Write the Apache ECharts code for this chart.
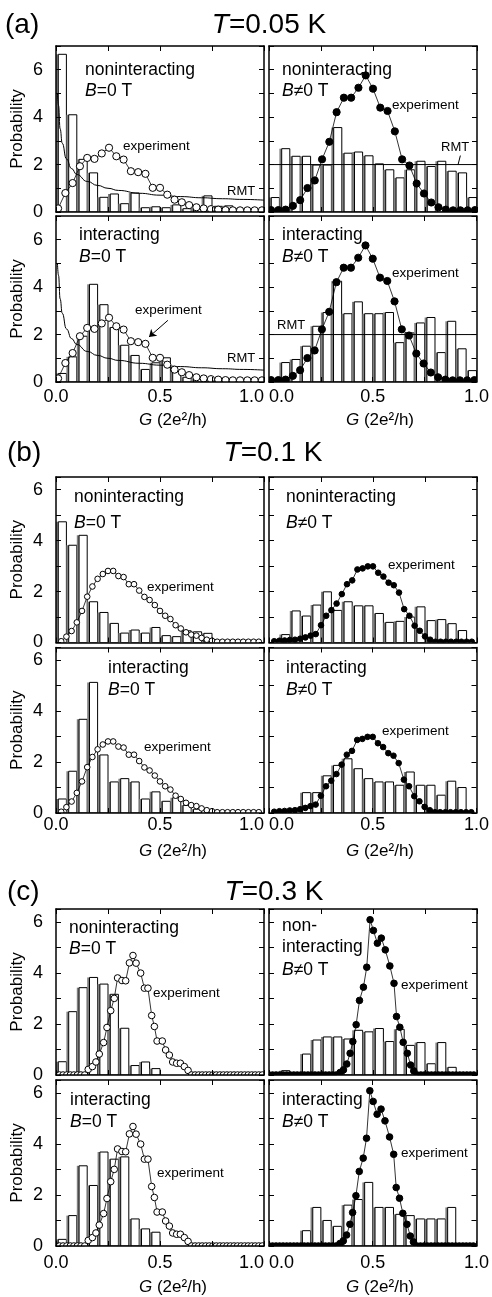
<!DOCTYPE html>
<html><head><meta charset="utf-8">
<script src="https://cdn.jsdelivr.net/npm/echarts@6/dist/echarts.min.js"></script>
<style>html,body{margin:0;padding:0;background:#fff}#c{width:492px;height:1297px}</style>
</head><body><div id="c"></div>
<script>
// ---------- DATA ----------
const binEdges = [0,0.05,0.1,0.15,0.2,0.25,0.3,0.35,0.4,0.45,0.5,0.55,0.6,0.65,0.7,0.75,0.8,0.85,0.9,0.95,1.0];
const xTickLabels = [0, 0.5, 1.0];
const yTickLabels = [0, 2, 4, 6];

// histogram heights (20 bins of width 0.05)
const aTopLeftBars  = [6.65,4.1,2.22,1.65,0.62,0.76,0.35,0.8,0.18,0.22,0.18,0.3,0.14,0.16,0.68,0.24,0.26,0.14,0.1,0.08];
const aTopRightBars = [0.61,2.67,2.35,2.35,1.98,1.98,3.56,2.48,2.53,2.37,2.03,1.78,1.44,1.78,2.14,1.92,2.14,1.72,1.65,0.61];
const aBotLeftBars  = [0.36,1.06,1.93,4.12,3.26,2.3,1.55,1.12,0.53,0.81,1.02,0.45,0.2,0.15,0.12,0.1,0.08,0.06,0.05,0.05];
const aBotRightBars = [0,0.82,0.95,1.51,2.35,2.93,4.25,2.88,3.38,2.88,2.88,2.93,1.66,2.07,2.49,2.72,1.24,2.56,1.4,0.48];
const bTopLeftBars  = [4.74,3.82,4.21,1.6,1.18,0.75,0.37,0.49,0.37,0.59,0.27,0.23,0.46,0.42,0.36,0,0,0,0,0];
const bTopRightBars = [0,0.31,1.24,1.04,1.47,1.99,1.26,1.6,1.44,1.44,1.14,0.79,0.83,1.0,1.4,0.86,0.9,0.74,0.47,0];
const bBotLeftBars  = [0.55,1.64,3.68,5.13,2.28,1.22,1.35,1.22,0.55,0.83,0.46,0.6,0.3,0.15,0,0,0,0,0,0];
const bBotRightBars = [0,0,0,0.8,0.8,1.46,1.87,2.13,1.74,1.35,1.22,1.22,1.09,1.61,1.09,1.09,0.7,1.25,1.0,0];
const cTopLeftBars  = [0.52,2.48,3.42,3.82,3.56,3.16,1.83,0.37,0.51,0.25,0,0,0,0,0,0,0,0,0,0];
const cTopRightBars = [0,0.17,0,0.82,1.37,1.49,1.49,1.41,1.75,1.69,1.82,1.31,1.79,1.16,1.27,0.44,1.27,0.3,0,0];
const cBotLeftBars  = [0.26,1.19,3.14,2.37,3.68,3.4,3.49,1.06,0.67,0.54,0,0,0,0,0,0,0,0,0,0];
const cBotRightBars = [0,0,0,0.6,1.51,1.0,0.77,1.6,1.82,2.49,1.51,1.51,1.24,1.19,1.06,1.06,1.06,1.51,0,0];

// experiment, T=0.05 K
const aExpX = [0.01,0.045,0.08,0.115,0.15,0.185,0.22,0.255,0.29,0.325,0.36,0.395,0.43,0.465,0.5,0.535,0.57,0.605,0.64,0.675,0.71,0.745,0.78,0.815,0.85,0.885,0.92,0.955,0.99];
const aExpB0 = [0.15,0.8,1.22,1.93,2.28,2.24,2.47,2.71,2.35,2.21,1.72,1.68,1.61,1.02,1.02,0.73,0.52,0.41,0.29,0.2,0.15,0.12,0.1,0.08,0.07,0.07,0.07,0.07,0.07];
const aExpB1 = [0.08,0.08,0.1,0.26,0.5,1.01,1.33,2.22,2.96,4.21,4.82,4.82,5.24,5.76,5.2,4.4,4.26,3.4,2.22,1.96,1.2,0.78,0.4,0.2,0.1,0.07,0.07,0.07,0.08];
// experiment, T=0.1 K
const bExpX = [0.025,0.05,0.075,0.1,0.125,0.15,0.175,0.2,0.225,0.25,0.275,0.3,0.325,0.35,0.375,0.4,0.425,0.45,0.475,0.5,0.525,0.55,0.575,0.6,0.625,0.65,0.675,0.7,0.725,0.75,0.775,0.8,0.825,0.85,0.875,0.9,0.925,0.95,0.975];
const bExpB0 = [0.05,0.23,0.45,0.79,1.24,1.8,2.2,2.5,2.69,2.81,2.81,2.61,2.57,2.29,2.29,2.04,1.79,1.67,1.47,1.24,1.05,0.92,0.68,0.55,0.4,0.31,0.27,0.18,0.11,0.07,0.03,0.03,0.03,0.03,0.03,0.03,0.03,0.03,0.03];
const bExpB1 = [0.05,0.07,0.08,0.1,0.11,0.15,0.2,0.27,0.33,0.68,1.05,1.27,1.53,1.9,2.29,2.44,2.87,2.91,2.99,2.99,2.74,2.59,2.35,2.25,1.96,1.31,1.05,0.66,0.46,0.24,0.11,0.03,0.03,0.03,0.03,0.03,0.03,0.03,0.03];
// experiment, T=0.3 K
const cExpB0X = [0,0.017,0.034,0.052,0.069,0.086,0.103,0.12,0.138,0.155,0.175,0.192,0.208,0.229,0.245,0.263,0.28,0.296,0.317,0.335,0.353,0.37,0.385,0.407,0.425,0.442,0.46,0.473,0.486,0.511,0.527,0.545,0.561,0.58,0.598,0.617,0.635,0.652,0.669,0.686,0.703,0.72,0.737,0.754,0.771,0.788,0.805,0.822,0.839,0.856,0.873,0.89,0.907,0.924,0.941,0.958,0.975,0.992];
const cExpB0Y = [0,0,0,0,0,0,0,0,0,0.22,0.33,0.51,0.82,1.27,1.86,2.52,3.0,3.8,3.7,3.69,4.39,4.68,4.38,3.99,3.4,3.4,2.33,1.9,1.33,1.33,0.98,0.78,0.51,0.46,0.46,0.33,0.18,0,0,0,0,0,0,0,0,0,0,0,0,0,0,0,0,0,0,0,0,0];
const cExpB1X = [0,0.017,0.034,0.051,0.068,0.085,0.102,0.119,0.136,0.153,0.17,0.187,0.204,0.221,0.238,0.255,0.272,0.289,0.306,0.323,0.342,0.358,0.374,0.39,0.403,0.419,0.435,0.454,0.47,0.486,0.502,0.521,0.54,0.559,0.581,0.601,0.613,0.629,0.645,0.665,0.681,0.696,0.713,0.73,0.747,0.764,0.781,0.798,0.815,0.832,0.849,0.866,0.883,0.9,0.917,0.934,0.951,0.968,0.985];
const cExpB1Y = [0,0,0,0,0,0,0,0,0,0,0,0,0,0,0,0,0,0,0,0,0.1,0.2,0.43,0.85,1.31,1.97,2.92,3.44,4.22,6.08,5.66,5.16,5.36,4.9,4.27,3.59,2.29,1.87,1.28,0.85,0.39,0.16,0,0,0,0,0,0,0,0,0,0,0,0,0,0,0,0,0];

// RMT curves
const rmtB0G = [0.007,0.012,0.02,0.03,0.05,0.075,0.1,0.15,0.2,0.25,0.3,0.4,0.5,0.6,0.7,0.8,0.9,1.0];
const rmtB0P = [5.0,4.5,3.5,2.9,2.24,1.83,1.58,1.29,1.12,1.0,0.91,0.79,0.71,0.65,0.6,0.56,0.53,0.5];
const rmtB1G = [0, 1];
const rmtB1P = [2, 2];

// ---------- LAYOUT ----------
const FONT = 'Liberation Sans, Arial, Helvetica, sans-serif';
const colLeft = [56, 269];
const panelW = 208;
const rows = [
  {top:46,    h:166,   max:7,   xl:false},
  {top:216,   h:166,   max:7,   xl:true, xm:6},
  {top:477,   h:165.5, max:6.5, xl:false},
  {top:647.5, h:165.5, max:6.5, xl:true, xm:3},
  {top:909,   h:166,   max:6.5, xl:false},
  {top:1080,  h:166,   max:6.5, xl:true, xm:8}
];
const panels = [
  {row:0,col:0,bars:aTopLeftBars, ex:aExpX,ey:aExpB0,open:true, r:3.6,rmt:1},
  {row:0,col:1,bars:aTopRightBars,ex:aExpX,ey:aExpB1,open:false,r:3.6,rmt:2,leader:true},
  {row:1,col:0,bars:aBotLeftBars, ex:aExpX,ey:aExpB0,open:true, r:3.6,rmt:1,arrow:true},
  {row:1,col:1,bars:aBotRightBars,ex:aExpX,ey:aExpB1,open:false,r:3.6,rmt:2},
  {row:2,col:0,bars:bTopLeftBars, ex:bExpX,ey:bExpB0,open:true, r:2.8},
  {row:2,col:1,bars:bTopRightBars,ex:bExpX,ey:bExpB1,open:false,r:2.8},
  {row:3,col:0,bars:bBotLeftBars, ex:bExpX,ey:bExpB0,open:true, r:2.8},
  {row:3,col:1,bars:bBotRightBars,ex:bExpX,ey:bExpB1,open:false,r:2.8},
  {row:4,col:0,bars:cTopLeftBars, ex:cExpB0X,ey:cExpB0Y,open:true, r:3.3},
  {row:4,col:1,bars:cTopRightBars,ex:cExpB1X,ey:cExpB1Y,open:false,r:3.3},
  {row:5,col:0,bars:cBotLeftBars, ex:cExpB0X,ey:cExpB0Y,open:true, r:3.3},
  {row:5,col:1,bars:cBotRightBars,ex:cExpB1X,ey:cExpB1Y,open:false,r:3.3}
];

function barItem(params, api){
  const h = api.value(2);
  if (!(h > 0)) return null;
  const a = api.coord([api.value(0), h]);
  const b = api.coord([api.value(1), 0]);
  const w = b[0]-a[0], hh = b[1]-a[1], g = w*0.22;
  return {type:'group', children:[
    {type:'rect', shape:{x:a[0], y:a[1], width:g, height:hh}, style:{fill:'#808080'}},
    {type:'rect', shape:{x:a[0]+g, y:a[1], width:w-g, height:hh}, style:{fill:'#fff', stroke:'#000', lineWidth:1}}
  ]};
}
function circItem(fill, r){
  return function(params, api){
    const c = api.coord([api.value(0), api.value(1)]);
    return {type:'circle', shape:{cx:c[0], cy:c[1], r:r}, style:{fill:fill, stroke:'#000', lineWidth:1}};
  };
}
const axLine = {show:true, onZero:false, lineStyle:{color:'#000', width:1.5}};
const axTick = {show:true, inside:true, length:5, lineStyle:{color:'#000', width:1}};
const isX = v => xTickLabels.some(t => Math.abs(t-v) < 1e-6);
const isY = v => yTickLabels.some(t => Math.abs(t-v) < 1e-6);

const grid = [], xAxis = [], yAxis = [], series = [];
panels.forEach((p, i) => {
  const R = rows[p.row];
  grid.push({left:colLeft[p.col], top:R.top, width:panelW, height:R.h, show:false});
  xAxis.push({gridIndex:i, type:'value', min:0, max:1, interval:0.25, position:'bottom', z:10,
    axisLine:axLine, axisTick:axTick, splitLine:{show:false},
    axisLabel:{show:R.xl, margin:R.xm||6, fontSize:18, fontFamily:FONT, color:'#000',
      formatter: v => isX(v) ? v.toFixed(1) : '',
      alignMinLabel: p.col===1 ? 'left' : 'center',
      alignMaxLabel: p.col===0 ? 'right' : 'center'}});
  xAxis.push({gridIndex:i, type:'value', min:0, max:1, interval:0.25, position:'top', z:10,
    axisLine:axLine, axisTick:axTick, splitLine:{show:false}, axisLabel:{show:false}});
  yAxis.push({gridIndex:i, type:'value', min:0, max:R.max, interval:1, position:'left', z:10,
    axisLine:axLine, axisTick:axTick, splitLine:{show:false},
    axisLabel:{show:p.col===0, margin:13, fontSize:18, fontFamily:FONT, color:'#000',
      formatter: v => isY(v) ? String(v) : ''},
    name: p.col===0 ? 'Probability' : '', nameLocation:'middle', nameGap:30,
    nameTextStyle:{fontSize:17, fontFamily:FONT, color:'#000'}});
  yAxis.push({gridIndex:i, type:'value', min:0, max:R.max, interval:1, position:'right', z:10,
    axisLine:axLine, axisTick:axTick, splitLine:{show:false}, axisLabel:{show:false}});
  const xi = 2*i, yi = 2*i;
  series.push({type:'custom', xAxisIndex:xi, yAxisIndex:yi, clip:true, z:2, silent:true,
    renderItem:barItem, encode:{x:[0,1], y:2},
    data:p.bars.map((h,k) => [binEdges[k], binEdges[k+1], h])});
  if (p.rmt === 1) {
    series.push({type:'line', xAxisIndex:xi, yAxisIndex:yi, z:3, silent:true, showSymbol:false,
      smooth:true, smoothMonotone:'x', lineStyle:{color:'#000', width:1},
      data:rmtB0G.map((g,k) => [g, rmtB0P[k]])});
  } else if (p.rmt === 2) {
    series.push({type:'line', xAxisIndex:xi, yAxisIndex:yi, z:3, silent:true, showSymbol:false,
      lineStyle:{color:'#000', width:1}, data:rmtB1G.map((g,k) => [g, rmtB1P[k]])});
  }
  const lineS = {type:'line', xAxisIndex:xi, yAxisIndex:yi, z:4, silent:true, showSymbol:false,
    lineStyle:{color:'#000', width:0.8}, data:p.ex.map((x,k) => [x, p.ey[k]])};
  if (p.arrow) {
    lineS.markLine = {silent:true, symbol:['none','arrow'], symbolSize:7, label:{show:false},
      lineStyle:{color:'#000', width:1, type:'solid'},
      data:[[{coord:[0.538,2.6]},{coord:[0.447,1.9]}]]};
  }
  if (p.leader) {
    lineS.markLine = {silent:true, symbol:['none','none'], label:{show:false},
      lineStyle:{color:'#000', width:1, type:'solid'},
      data:[[{coord:[0.92,2.38]},{coord:[0.909,2.0]}]]};
  }
  series.push(lineS);
  series.push({type:'custom', xAxisIndex:xi, yAxisIndex:yi, clip:true, z:5, silent:true,
    renderItem:circItem(p.open ? '#fff' : '#000', p.r), encode:{x:0, y:1},
    data:p.ex.map((x,k) => [x, p.ey[k]])});
});

function txt(x, y, text, size, align){
  return {type:'text', x:x, y:y, z:100, silent:true,
    style:{text:text, fontSize:size, fontFamily:FONT, fill:'#000',
      align:align||'left', verticalAlign:'middle', textAlign:align||'left', textVerticalAlign:'middle',
      rich:{i:{fontStyle:'italic', fontSize:size, fontFamily:FONT, fill:'#000'}}}};
}
const S = 17.5, E = 13.5, M = 13;
const graphic = [
  txt(5,25,'(a)',28), txt(269,25,'{i|T}=0.05 K',28,'center'),
  txt(7,453,'(b)',28), txt(273,453,'{i|T}=0.1 K',28,'center'),
  txt(7,892,'(c)',28), txt(274,892,'{i|T}=0.3 K',28,'center'),
  // a row 1
  txt(85,70,'noninteracting',S), txt(85,91,'{i|B}=0 T',S),
  txt(282,70,'noninteracting',S), txt(282,91,'{i|B}\u22600 T',S),
  txt(123,146,'experiment',E), txt(392,105,'experiment',E),
  txt(227,191,'RMT',M), txt(441,147,'RMT',M),
  // a row 2
  txt(79,235,'interacting',S), txt(79,257,'{i|B}=0 T',S),
  txt(282,235,'interacting',S), txt(282,257,'{i|B}\u22600 T',S),
  txt(135,310,'experiment',E), txt(392,273,'experiment',E),
  txt(227,358,'RMT',M), txt(277,325,'RMT',M),
  // b row 1
  txt(74,497,'noninteracting',S), txt(74,523,'{i|B}=0 T',S),
  txt(286,497,'noninteracting',S), txt(286,523,'{i|B}\u22600 T',S),
  txt(147,587,'experiment',E), txt(388,565,'experiment',E),
  // b row 2
  txt(108,668,'interacting',S), txt(108,690,'{i|B}=0 T',S),
  txt(286,668,'interacting',S), txt(286,690,'{i|B}\u22600 T',S),
  txt(144,747,'experiment',E), txt(382,731,'experiment',E),
  // c row 1
  txt(69,928,'noninteracting',S), txt(69,949,'{i|B}=0 T',S),
  txt(282,926,'non-',S), txt(282,947,'interacting',S), txt(282,970,'{i|B}\u22600 T',S),
  txt(153,993,'experiment',E), txt(401,985,'experiment',E),
  // c row 2
  txt(70,1100,'interacting',S), txt(70,1122,'{i|B}=0 T',S),
  txt(282,1100,'interacting',S), txt(282,1122,'{i|B}\u22600 T',S),
  txt(157,1173,'experiment',E), txt(401,1153,'experiment',E),
  // x axis titles
  txt(173,420,'{i|G} (2e\u00b2/h)',17,'center'), txt(380,420,'{i|G} (2e\u00b2/h)',17,'center'),
  txt(173,851,'{i|G} (2e\u00b2/h)',17,'center'), txt(380,851,'{i|G} (2e\u00b2/h)',17,'center'),
  txt(173,1287,'{i|G} (2e\u00b2/h)',17,'center'), txt(380,1287,'{i|G} (2e\u00b2/h)',17,'center')
];

const chart = echarts.init(document.getElementById('c'), null, {renderer:'canvas'});
chart.setOption({animation:false, backgroundColor:'#fff', grid, xAxis, yAxis, series, graphic});
</script></body></html>
